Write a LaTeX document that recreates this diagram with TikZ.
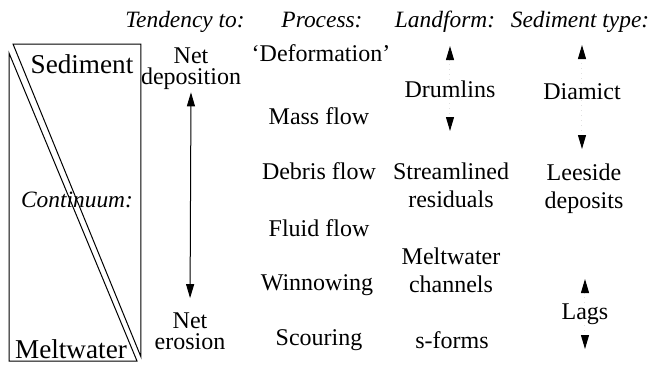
\documentclass[tikz,border=0pt]{standalone}
\usepackage{fontspec}
\setmainfont{Liberation Serif}
\usetikzlibrary{arrows.meta}
\tikzset{
    col-head/.style = {font=\fontsize{11.7}{14}\selectfont\itshape, inner sep=0pt, anchor=base},
    col-text/.style = {font=\fontsize{12}{14}\selectfont, align=center, inner sep=0pt},
    tend-text/.style = {font=\fontsize{12}{10.5}\selectfont, align=center, inner sep=0pt},
    box-text/.style = {font=\fontsize{13.6}{16}\selectfont, inner sep=0pt},
    box-line/.style = {draw=black, line width=0.5pt},
    solid-tip/.style = {line width=0.5pt, -{Triangle[width=4pt,length=7pt,color=black]}},
    both-tips/.style = {line width=0.5pt, {Triangle[width=4pt,length=7pt]}-{Triangle[width=4pt,length=7pt]}},
    faint-line/.style = {draw=black!12, dotted},
}

\begin{document}
\begin{tikzpicture}[x=0.5pt, y=-0.5pt]
\useasboundingbox (0,0) rectangle (650,365);

\draw[box-line] (13,44) -- (141,44) -- (141,357) -- cycle;
\draw[box-line] (9,53) -- (9,361) -- (137,361) -- cycle;
\node[box-text] (sediment) at (82,64) {Sediment};
\node[box-text, font=\fontsize{11.7}{14}\selectfont\itshape] (continuum) at (77,200) {Continuum:};
\node[box-text] (meltwater) at (71,349) {Meltwater};

\node[col-head] (tendency) at (185,27) {Tendency to:};
\node[col-head] (process) at (322,27) {Process:};
\node[col-head] (landform) at (445,27) {Landform:};
\node[col-head] (sedtype) at (580,27) {Sediment type:};

\node[tend-text] (net-dep) at (191,69) {Net\\deposition};
\node[tend-text] (net-ero) at (190,331) {Net\\erosion};
\draw[both-tips, shorten <=1pt, shorten >=7pt] (net-dep.south) -- (net-ero.north);

\node[col-text] (deformation) at (321,53) {`Deformation'};
\node[col-text] (mass-flow) at (319,116) {Mass flow};
\node[col-text] (debris-flow) at (319,171) {Debris flow};
\node[col-text] (fluid-flow) at (319,228) {Fluid flow};
\node[col-text] (winnowing) at (317,285) {Winnowing};
\node[col-text] (scouring) at (319,340) {Scouring};

\node[col-text] (drumlins) at (450,89) {Drumlins};
\node[col-text] (streamlined) at (451,185) {Streamlined\\residuals};
\node[col-text] (channels) at (451,270) {Meltwater\\channels};
\node[col-text] (s-forms) at (452,340) {s-forms};
\coordinate (lf-top) at (450,46);
\coordinate (lf-bot) at (450,131);
\draw[faint-line, solid-tip] (drumlins.north) -- (lf-top);
\draw[faint-line, solid-tip] (drumlins.south) -- (lf-bot);

\node[col-text] (diamict) at (582,92) {Diamict};
\node[col-text] (leeside) at (584,189) {Leeside\\deposits};
\node[col-text] (lags) at (585,314) {Lags};
\coordinate (st-top) at (582,45);
\coordinate (st-bot) at (582,149);
\coordinate (lags-top) at (585,279);
\coordinate (lags-bot) at (585,349);
\draw[faint-line, solid-tip] (diamict.north) -- (st-top);
\draw[faint-line, solid-tip] (diamict.south) -- (st-bot);
\draw[faint-line, solid-tip] (lags.north) -- (lags-top);
\draw[faint-line, solid-tip] (lags.south) -- (lags-bot);
\end{tikzpicture}
\end{document}
